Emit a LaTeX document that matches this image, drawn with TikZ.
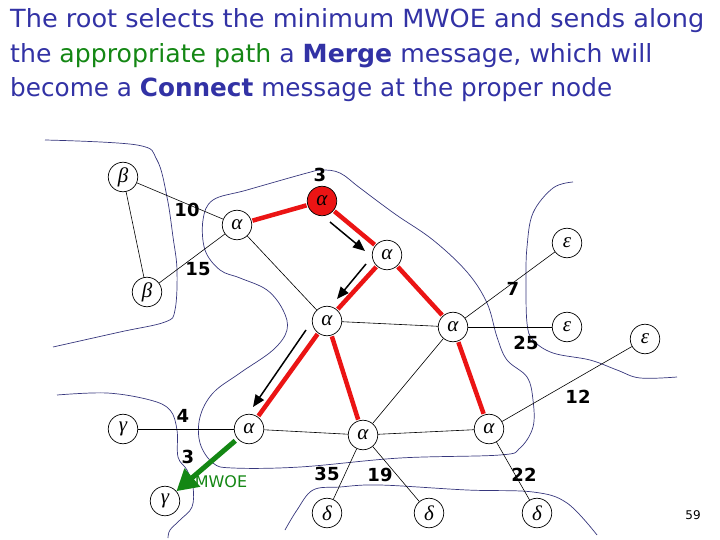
\documentclass[tikz,border=0pt]{standalone}
\usepackage{graphicx}
\usepackage{fontspec}
\setmainfont{DejaVu Sans}
\newfontfamily\labfont{DejaVu Sans}
\newfontfamily\grkfont{Liberation Serif}
\usetikzlibrary{arrows.meta}
\definecolor{ttl}{RGB}{50,50,165}
\definecolor{grn}{RGB}{20,135,20}
\definecolor{rd}{RGB}{235,20,20}
\definecolor{cont}{RGB}{55,55,125}
\tikzset{
  vert/.style={circle,draw,fill=white,minimum size=29.5pt,inner sep=0pt,line width=0.7pt,
    font=\grkfont\itshape\fontsize{21}{21}\selectfont},
  rootv/.style={vert,fill=rd},
  thinedge/.style={line width=0.6pt},
  redge/.style={rd,line width=4.5pt,shorten <=1pt,shorten >=1pt},
  marrow/.style={line width=1.5pt,-{Triangle[length=12pt,width=10pt]}},
  garrow/.style={grn,line width=5pt,shorten <=3pt,-{Triangle[length=21pt,width=23pt]}},
  contour/.style={cont,line width=0.7pt},
  wlabel/.style={inner sep=0pt,font=\labfont\bfseries\fontsize{18}{18}\selectfont},
  titleline/.style={anchor=base west,inner sep=0pt,text=ttl,font=\fontsize{25}{25}\selectfont}
}
\begin{document}
\begin{tikzpicture}[x=1pt,y=-1pt]
\useasboundingbox (0,0) rectangle (720,540);
% title
\node[titleline] (t1) at (10,28) {\resizebox{694pt}{\height}{The root selects the minimum MWOE and sends along}};
\node[titleline] (t2) at (10,63) {\resizebox{642pt}{\height}{the \textcolor{grn}{appropriate path} a \textbf{Merge} message, which will}};
\node[titleline] (t3) at (10,97) {\resizebox{602pt}{\height}{become a \textbf{Connect} message at the proper node}};
% contours
\draw[contour] plot[smooth,tension=0.6] coordinates {(45,140) (137,145) (157,160) (167,197) (173,237) (177,270) (175,310) (165,322) (120,332) (53,347)};
\draw[contour] plot[smooth cycle,tension=0.6] coordinates {(307,173) (247,190) (213,200) (203,220) (205,250) (220,270) (240,278) (267,290) (283,310) (287,330) (273,350) (240,373) (213,393) (200,417) (200,443) (213,463) (233,468) (300,467) (400,458) (500,455) (520,448) (533,427) (533,400) (527,377) (507,360) (497,337) (487,303) (467,272) (433,240) (395,214) (360,188) (340,173) (322,170)};
\draw[contour] plot[smooth,tension=0.6] coordinates {(285,530) (297,510) (313,490) (340,487) (380,485) (467,490) (533,492) (567,503) (597,535)};
\draw[contour] plot[smooth,tension=0.6] coordinates {(57,395) (107,393) (150,400) (170,410) (177,430) (178,457) (187,470) (193,487) (192,507) (180,520) (170,530) (168,538)};
\draw[contour] plot[smooth,tension=0.6] coordinates {(573,182) (553,188) (533,213) (527,247) (526,280) (527,323) (533,340) (553,353) (590,360) (617,370) (640,378) (677,377)};
% nodes
\node[vert] (b1) at (123,177) {β};
\node[vert] (b2) at (147,292) {β};
\node[vert] (a2) at (237,225) {α};
\node[rootv] (root) at (322,201) {α};
\node[vert] (a3) at (387,255) {α};
\node[vert] (a4) at (327,321) {α};
\node[vert] (a5) at (453,327) {α};
\node[vert] (e1) at (567,243) {ε};
\node[vert] (e2) at (567,327) {ε};
\node[vert] (e3) at (645,339) {ε};
\node[vert] (g1) at (123,429) {γ};
\node[vert] (a6) at (249,429) {α};
\node[vert] (g2) at (165,501) {γ};
\node[vert] (a7) at (363,435) {α};
\node[vert] (a8) at (489,429) {α};
\node[vert] (d1) at (327,513) {δ};
\node[vert] (d2) at (429,513) {δ};
\node[vert] (d3) at (537,513) {δ};
% thin edges
\foreach \u/\v in {b1/a2,b1/b2,b2/a2,a2/a4,a4/a5,a5/e1,a5/e2,a5/a7,a8/e3,g1/a6,a6/a7,a7/a8,a7/d1,a7/d2,a8/d3}
  \draw[thinedge] (\u) -- (\v);
% red tree edges
\foreach \u/\v in {a2/root,root/a3,a3/a4,a3/a5,a4/a6,a4/a7,a5/a8}
  \draw[redge] (\u) -- (\v);
% MWOE arrow
\draw[garrow] (a6) -- (g2);
% merge arrows
\coordinate (m1s) at (330,222); \coordinate (m1e) at (365,251);
\coordinate (m2s) at (366,264); \coordinate (m2e) at (337,299);
\coordinate (m3s) at (306,330); \coordinate (m3e) at (253,407);
\draw[marrow] (m1s) -- (m1e);
\draw[marrow] (m2s) -- (m2e);
\draw[marrow] (m3s) -- (m3e);
% labels
\node[wlabel] (l3r) at (320,175) {3};
\node[wlabel] (l10) at (187,210) {10};
\node[wlabel] (l15) at (198,269) {15};
\node[wlabel] (l7) at (513,289) {7};
\node[wlabel] (l25) at (526,343) {25};
\node[wlabel] (l12) at (578,397) {12};
\node[wlabel] (l4) at (183,416) {4};
\node[wlabel] (l3g) at (188,457) {3};
\node[wlabel] (l35) at (327,474) {35};
\node[wlabel] (l19) at (380,475) {19};
\node[wlabel] (l22) at (524,475) {22};
\node[inner sep=0pt,text=grn,font=\labfont\fontsize{16}{16}\selectfont] (mwoe) at (221,482) {MWOE};
\node[inner sep=0pt,font=\labfont\fontsize{12}{12}\selectfont] (pg) at (693,515) {59};
\end{tikzpicture}
\end{document}
